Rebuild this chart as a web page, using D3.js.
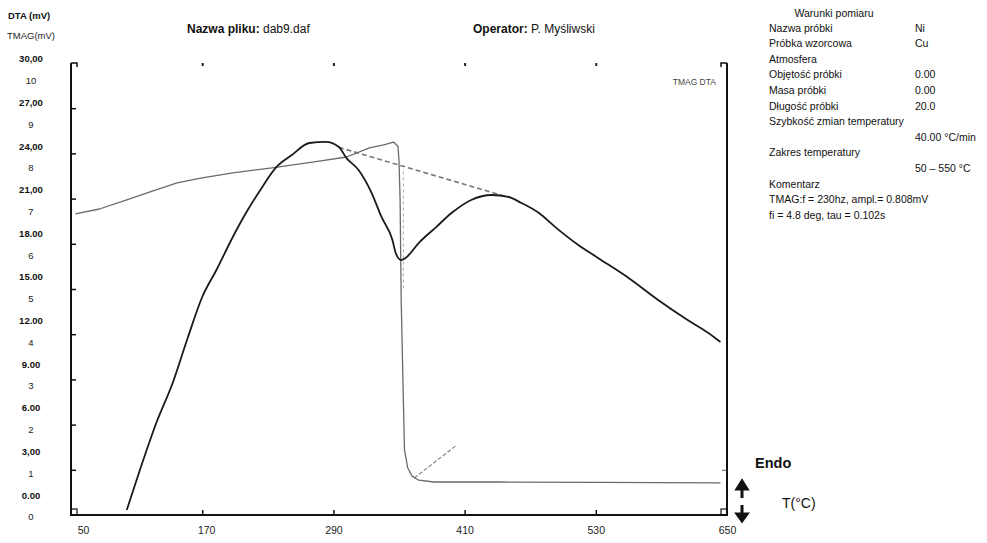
<!DOCTYPE html>
<html>
<head>
<meta charset="utf-8">
<script src="https://cdn.jsdelivr.net/npm/d3@7"></script>
<style>
  body { margin: 0; background: #fff; }
  text { font-family: "Liberation Sans", Arial, sans-serif; }
</style>
</head>
<body>
<script>
// temperature axis
var xTicks = [50, 170, 290, 410, 530, 650];
var dtaLabels = ["30,00", "27,00", "24,00", "21,00", "18.00", "15.00", "12.00", "9.00", "6.00", "3,00", "0.00"];
var tmagLabels = ["10", "9", "8", "7", "6", "5", "4", "3", "2", "1", "0"];

// TMAG curve (mV, 0..10 scale)
var tmagT = [54, 76, 101, 119, 147, 170, 198, 234, 277, 302, 323, 336, 345, 349, 350, 351, 352, 354, 355, 358, 362, 368, 382, 441, 532, 644];
var tmagV = [6.66, 6.77, 6.97, 7.12, 7.35, 7.46, 7.57, 7.68, 7.83, 7.92, 8.12, 8.19, 8.25, 8.16, 7.85, 6.97, 4.76, 2.54, 1.44, 1.04, 0.86, 0.77, 0.73, 0.73, 0.72, 0.71];

// DTA curve (mV, 0..30 scale)
var dtaT = [101, 113, 128, 143, 157, 170, 183, 198, 210, 222, 238, 252, 268, 283, 295, 302, 313, 325, 334, 344, 347, 352, 356, 368, 384, 398, 416, 435, 450, 462, 478, 493, 514, 532, 560, 587, 614, 633, 644];
var dtaV = [0.33, 2.99, 6.11, 8.76, 11.81, 14.47, 16.26, 18.45, 20.04, 21.44, 23.10, 23.89, 24.69, 24.76, 24.42, 23.69, 22.90, 21.37, 19.78, 18.25, 17.39, 16.92, 17.06, 18.05, 19.11, 20.04, 20.91, 21.24, 21.11, 20.71, 20.04, 19.11, 17.92, 17.06, 15.73, 14.27, 12.94, 12.08, 11.48];

// construction lines
var baseT = [295, 452];
var baseV = [24.4, 21.05];
var tangT = [364, 403];
var tangV = [0.82, 1.55];
var dropT = [354, 354];
var dropV = [7.6, 5.0];

var conditions = [
  ["Nazwa próbki", "Ni"],
  ["Próbka wzorcowa", "Cu"],
  ["Atmosfera", ""],
  ["Objętość próbki", "0.00"],
  ["Masa próbki", "0.00"],
  ["Długość próbki", "20.0"],
  ["Szybkość zmian temperatury", ""],
  ["", "40.00 °C/min"],
  ["Zakres temperatury", ""],
  ["", "50 – 550 °C"],
  ["Komentarz", ""],
  ["TMAG:f = 230hz, ampl.= 0.808mV", ""],
  ["fi = 4.8 deg, tau = 0.102s", ""]
];

var w = 987, h = 543;
var pL = 71, pR = 727, pT = 63, pB = 515;

var svg = d3.select("body").append("svg").attr("width", w).attr("height", h);

var x = d3.scaleLinear().domain([50, 650]).range([pL, pR]);
var y = d3.scaleLinear().domain([0, 10]).range([pB, pT]);
var yD = d3.scaleLinear().domain([0, 30]).range([pB, pT]);

// frame (no top line)
svg.append("path")
  .attr("d", "M" + pL + "," + pT + "V" + pB + "H" + pR + "V" + pT)
  .attr("fill", "none").attr("stroke", "#111").attr("stroke-width", 2);
// corner marks
[[pL, 1], [pR, -1]].forEach(function(c) {
  svg.append("path")
    .attr("d", "M" + c[0] + "," + pT + "h" + (6 * c[1]) + "v4")
    .attr("fill", "none").attr("stroke", "#111").attr("stroke-width", 1.5);
  svg.append("rect")
    .attr("x", c[1] > 0 ? c[0] : c[0] - 6).attr("y", pB - 6)
    .attr("width", 6).attr("height", 6)
    .attr("fill", "none").attr("stroke", "#111").attr("stroke-width", 1.2);
});

// left ticks
var yAxis = svg.append("g").attr("transform", "translate(" + pL + ",0)")
  .call(d3.axisRight(y).tickValues(d3.range(1, 10)).tickSize(5).tickFormat(""));
yAxis.select(".domain").remove();
yAxis.selectAll("line").attr("stroke", "#111").attr("stroke-width", 1.5);

// right ticks (faint)
var yAxisR = svg.append("g").attr("transform", "translate(" + pR + ",0)")
  .call(d3.axisLeft(y).tickValues([1]).tickSize(5).tickFormat(""));
yAxisR.select(".domain").remove();
yAxisR.selectAll("line").attr("stroke", "#555").attr("stroke-width", 1);

// bottom axis
var xAxis = svg.append("g").attr("transform", "translate(0," + pB + ")")
  .call(d3.axisBottom(x).tickValues(xTicks).tickSizeInner(-5).tickSizeOuter(0).tickPadding(12));
xAxis.select(".domain").remove();
xAxis.selectAll("line").attr("stroke", "#111").attr("stroke-width", 1.5)
  .filter(function(d) { return d == 50 || d == 650; }).remove();
xAxis.selectAll("text").attr("font-size", 10.5).attr("fill", "#222")
  .attr("dx", function(d) { return d == 50 ? 12 : (d == 170 ? 4 : 0); });

// top tick dots
var topAxis = svg.append("g").attr("transform", "translate(0," + pT + ")")
  .call(d3.axisBottom(x).tickValues(xTicks.slice(1, 5)).tickSize(3).tickFormat(""));
topAxis.select(".domain").remove();
topAxis.selectAll("line").attr("stroke", "#222").attr("stroke-width", 2);

// y labels, two interleaved columns
var yl = d3.scaleLinear().domain([0, 21]).range([59, 517]);
svg.selectAll("text.dta").data(dtaLabels).enter().append("text").attr("class", "dta")
  .text(function(d) { return d; })
  .attr("x", 31).attr("y", function(d, i) { return yl(2 * i); })
  .attr("dy", "0.35em").attr("text-anchor", "middle")
  .attr("font-size", 9.5).attr("font-weight", "bold").attr("fill", "#111");
svg.selectAll("text.tmag").data(tmagLabels).enter().append("text").attr("class", "tmag")
  .text(function(d) { return d; })
  .attr("x", 31).attr("y", function(d, i) { return yl(2 * i + 1); })
  .attr("dy", "0.35em").attr("text-anchor", "middle")
  .attr("font-size", 9.5).attr("fill", "#222");

svg.append("text").text("DTA (mV)").attr("x", 8).attr("y", 16).attr("dy", "0.35em")
  .attr("font-size", 9.5).attr("font-weight", "bold").attr("fill", "#111");
svg.append("text").text("TMAG(mV)").attr("x", 7).attr("y", 36).attr("dy", "0.35em")
  .attr("font-size", 9.5).attr("fill", "#222");

// header
var t1 = svg.append("text").attr("x", 187).attr("y", 29).attr("dy", "0.35em").attr("font-size", 12).attr("fill", "#111");
t1.append("tspan").attr("font-weight", "bold").text("Nazwa pliku:");
t1.append("tspan").text(" dab9.daf");
var t2 = svg.append("text").attr("x", 473).attr("y", 29).attr("dy", "0.35em").attr("font-size", 12).attr("fill", "#111");
t2.append("tspan").attr("font-weight", "bold").text("Operator:");
t2.append("tspan").text(" P. Myśliwski");

svg.append("text").text("TMAG DTA").attr("x", 716).attr("y", 82).attr("dy", "0.35em")
  .attr("text-anchor", "end").attr("font-size", 8.5).attr("fill", "#444");

// measurement conditions
svg.append("text").text("Warunki pomiaru").attr("x", 834).attr("y", 13).attr("dy", "0.35em")
  .attr("text-anchor", "middle").attr("font-size", 10.5).attr("fill", "#111");
var rows = svg.selectAll("g.row").data(conditions).enter().append("g").attr("class", "row")
  .attr("transform", function(d, i) { return "translate(0," + (28 + i * 15.6) + ")"; });
rows.append("text").text(function(d) { return d[0]; }).attr("x", 769).attr("dy", "0.35em")
  .attr("font-size", 10.5).attr("fill", "#111");
rows.append("text").text(function(d) { return d[1]; }).attr("x", 915).attr("dy", "0.35em")
  .attr("font-size", 10.5).attr("fill", "#111");

// Endo / arrows / T
svg.append("text").text("Endo").attr("x", 755).attr("y", 463).attr("dy", "0.35em")
  .attr("font-size", 14.5).attr("font-weight", "bold").attr("fill", "#111");
svg.append("text").text("T(°C)").attr("x", 782).attr("y", 503).attr("dy", "0.35em")
  .attr("font-size", 14).attr("fill", "#111");
svg.append("path").attr("d", "M742,498V487M737,489L742,481L747,489Z")
  .attr("stroke", "#111").attr("stroke-width", 3).attr("fill", "#111");
svg.append("path").attr("d", "M742,505V515M737,514L742,521L747,514Z")
  .attr("stroke", "#111").attr("stroke-width", 3).attr("fill", "#111");

// curves
var lineT = d3.line().x(function(d) { return x(d[0]); }).y(function(d) { return y(d[1]); });
var lineD = d3.line().x(function(d) { return x(d[0]); }).y(function(d) { return yD(d[1]); });

svg.append("path").datum(d3.zip(baseT, baseV)).attr("d", lineD)
  .attr("fill", "none").attr("stroke", "#777").attr("stroke-width", 1.6).attr("stroke-dasharray", "5,3");
svg.append("path").datum(d3.zip(tangT, tangV)).attr("d", lineT)
  .attr("fill", "none").attr("stroke", "#888").attr("stroke-width", 1.2).attr("stroke-dasharray", "4,2");
svg.append("path").datum(d3.zip(dropT, dropV)).attr("d", lineT)
  .attr("fill", "none").attr("stroke", "#aaa").attr("stroke-width", 1).attr("stroke-dasharray", "3,3");

svg.append("path").datum(d3.zip(tmagT, tmagV)).attr("d", lineT)
  .attr("fill", "none").attr("stroke", "#6a6a6a").attr("stroke-width", 1.3).attr("stroke-linejoin", "round");
svg.append("path").datum(d3.zip(dtaT, dtaV)).attr("d", lineD.curve(d3.curveMonotoneX))
  .attr("fill", "none").attr("stroke", "#1a1a1a").attr("stroke-width", 1.8).attr("stroke-linejoin", "round");
</script>
</body>
</html>
